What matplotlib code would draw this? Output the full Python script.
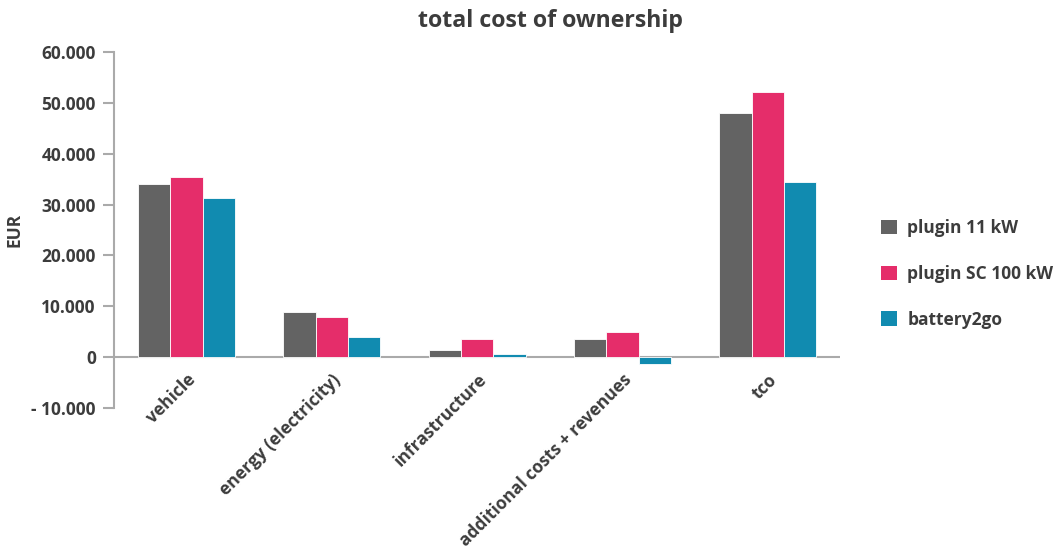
import matplotlib.pyplot as plt
import numpy as np
from matplotlib.patches import Patch
from matplotlib.ticker import FuncFormatter

# --- data ---
categories = ["vehicle", "energy (electricity)", "infrastructure",
              "additional costs + revenues", "tco"]
plugin_11 = [34000, 8900, 1400, 3500, 48100]
plugin_sc100 = [35500, 8000, 3500, 5000, 52200]
battery2go = [31300, 3900, 700, -1400, 34400]
series_names = ["plugin 11 kW", "plugin SC 100 kW", "battery2go"]
colors = ["#636363", "#e52d6a", "#118bb0"]

plt.rcParams["font.family"] = ["Open Sans", "DejaVu Sans"]
plt.rcParams["font.weight"] = "bold"
text_col = "#3c3c3c"
fw = "bold"

fig = plt.figure(figsize=(10.62, 5.59), dpi=100)
ax = fig.add_axes([0.1073, 0.270, 0.684, 0.637])

x = np.arange(len(categories))
w = 0.223
for i, (vals, c) in enumerate(zip([plugin_11, plugin_sc100, battery2go], colors)):
    ax.bar(x + (i - 1) * w, vals, w, color=c, edgecolor="white", linewidth=0.6, zorder=3)

ax.set_xlim(-0.5, 4.5)
ax.set_ylim(-10000, 60000)
ax.set_yticks(range(-10000, 60001, 10000))


def fmt(v, pos):
    s = f"{abs(v):,.0f}".replace(",", ".")
    return "- " + s if v < 0 else s


ax.yaxis.set_major_formatter(FuncFormatter(fmt))
ax.axhline(0, color="#aaaaaa", linewidth=1.5, zorder=2)

for s in ["top", "right", "bottom"]:
    ax.spines[s].set_visible(False)
ax.spines["left"].set_color("#aaaaaa")
ax.spines["left"].set_linewidth(1.5)
ax.tick_params(axis="y", colors="#aaaaaa", length=8, width=1.5, pad=5,
               labelcolor=text_col, labelsize=12.5)
ax.tick_params(axis="x", length=0, labelcolor=text_col, labelsize=12.5, pad=-27)

ax.set_xticks(x)
ax.set_xticklabels(categories, rotation=45, ha="right", rotation_mode="anchor")
for lbl in ax.get_xticklabels() + ax.get_yticklabels():
    lbl.set_fontweight(fw)

ax.set_ylabel("EUR", color=text_col, fontsize=12.5, fontweight=fw, labelpad=6)
fig.text(0.518, 0.962, "total cost of ownership", ha="center", va="center",
         fontsize=16.7, fontweight=fw, color=text_col)

handles = [Patch(facecolor=c, edgecolor="none") for c in colors]
leg = fig.legend(handles, series_names, loc="center left", bbox_to_anchor=(0.815, 0.51),
                 frameon=False, fontsize=12.5, labelspacing=1.6, handlelength=0.9,
                 handleheight=0.9, handletextpad=0.6)
for t in leg.get_texts():
    t.set_color(text_col)
    t.set_fontweight(fw)

plt.savefig("out.png", dpi=100)
